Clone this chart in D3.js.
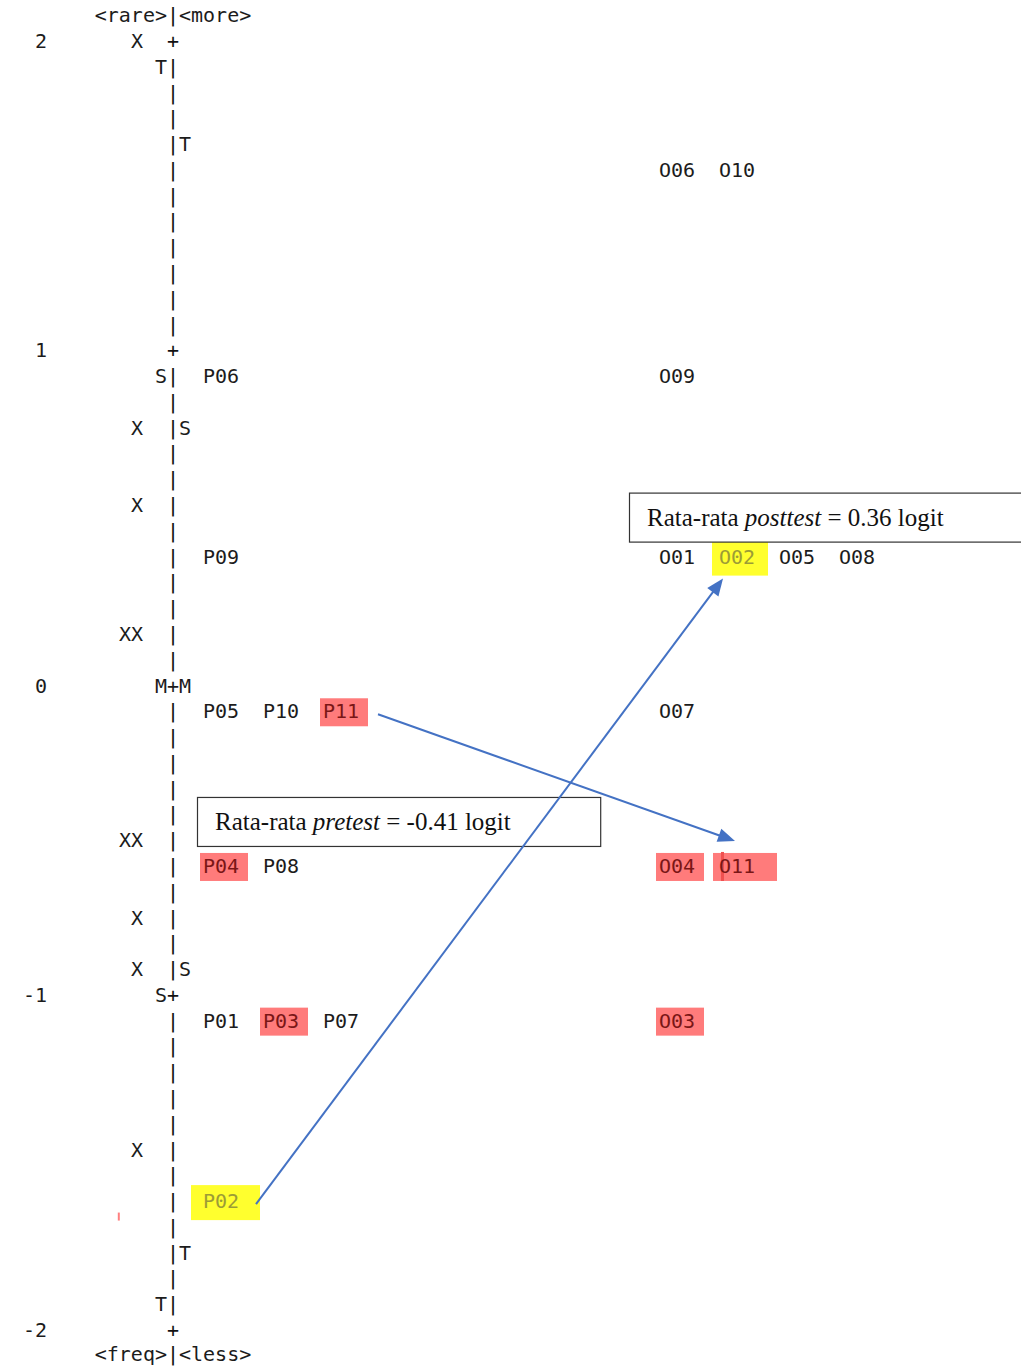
<!DOCTYPE html>
<html><head><meta charset="utf-8">
<script src="https://cdn.jsdelivr.net/npm/d3@7"></script>
<style>body{margin:0;background:#fff;overflow:hidden} text{-webkit-font-smoothing:antialiased}</style>
</head><body>
<svg id="c" width="1021" height="1366"></svg>
<script>
// ---------- DATA (Wright map rows: row 0 = top line, 50 = bottom line) ----------
const measureLabels = ["2", "1", "0", "-1", "-2"];
const measureRows = [0, 12, 25, 37, 50];
const personRows = [0, 15, 18, 23, 31, 34, 36, 43];
const personCounts = [1, 1, 1, 2, 2, 1, 1, 1];
const leftMarkers = ["T", "S", "M", "S", "T"];
const leftMarkerRows = [1, 13, 25, 37, 49];
const rightMarkers = ["T", "S", "M", "S", "T"];
const rightMarkerRows = [4, 15, 25, 36, 47];
const pretestItems = ["P06", "P09", "P05", "P10", "P11", "P04", "P08", "P01", "P03", "P07", "P02"];
const pretestRows = [13, 20, 26, 26, 26, 32, 32, 38, 38, 38, 45];
const posttestItems = ["O06", "O10", "O09", "O01", "O02", "O05", "O08", "O07", "O04", "O11", "O03"];
const posttestRows = [5, 5, 13, 20, 20, 20, 20, 26, 32, 32, 38];
const redHighlights = ["P11", "P04", "P03", "O04", "O11", "O03"];
const yellowHighlights = ["P02", "O02"];
const arrowPairs = [["P11", "O11"], ["P02", "O02"]];
const headerTop = ["<rare>", "<more>"];
const headerBottom = ["<freq>", "<less>"];
const meanNotes = [
  {pre: "Rata-rata ", it: "posttest", post: " = 0.36 logit", row: 20},
  {pre: "Rata-rata ", it: "pretest", post: " = -0.41 logit", row: 32}
];

// ---------- SCALES ----------
const svg = d3.select("#c");
const y = d3.scaleLinear().domain([0, 50]).range([41, 1330]);   // row -> pixel (char centre)
const col = d3.scaleLinear().domain([0, 1]).range([173, 185]);  // column offset from bar -> char centre
const CW = 12, FS = 20, BASE = 7;
const mono = "'DejaVu Sans Mono', 'Liberation Mono', monospace";
const ink = "#1c1c1c";

const g = svg.append("g");
const bg = g.append("g");      // highlights
const fg = g.append("g").attr("opacity", 0.999);      // text
const ag = g.append("g");      // arrows/boxes

function txt(str, c, row, anchor, fill, dy) {
  let x = anchor === "end" ? col(c) + CW / 2 : (anchor === "middle" ? col(c) : col(c) - CW / 2);
  return fg.append("text").attr("x", x).attr("y", y(row) + BASE + (dy || 0))
    .attr("text-anchor", anchor || "start")
    .attr("font-family", mono).attr("font-size", FS)
    .attr("fill", fill || ink).text(str);
}

// vertical bar
const tickSet = new Set(measureRows);
for (let r = -1; r <= 51; r++) {
  if (r === 25) continue;
  txt(tickSet.has(r) ? "+" : "|", 0, r, "middle", "#111", r === 51 ? -2 : 0);
}
// header / footer
txt(headerTop[0], -1, -1, "end"); txt(headerTop[1], 1, -1, "start");
txt(headerBottom[0], -1, 51, "end", ink, -2); txt(headerBottom[1], 1, 51, "start", ink, -2);

// measure labels
measureLabels.forEach((l, i) => txt(l, -11, measureRows[i], "end"));
// persons
personRows.forEach((r, i) => txt("X".repeat(personCounts[i]), -3, r, "end"));
// markers
leftMarkers.forEach((m, i) => txt(m, -1, leftMarkerRows[i], "middle"));
txt("+", 0, 25, "middle");
rightMarkers.forEach((m, i) => txt(m, 1, rightMarkerRows[i], "middle"));

// items
const itemPos = {};
function placeItems(items, rows, startCol) {
  const count = {};
  items.forEach((lab, i) => {
    const r = rows[i];
    const k = count[r] || 0; count[r] = k + 1;
    const c = startCol + 5 * k;
    itemPos[lab] = {left: col(c) - CW / 2, right: col(c) - CW / 2 + 3 * CW, cy: y(r), c, r};
  });
}
placeItems(pretestItems, pretestRows, 3);
placeItems(posttestItems, posttestRows, 41);

const redFill = "#ff7b7b", yelFill = "#ffff2e";
redHighlights.forEach(lab => {
  const p = itemPos[lab];
  const isO11 = lab === "O11";
  bg.append("rect").attr("x", p.left - (isO11 ? 6 : 3)).attr("y", p.cy - 13)
    .attr("width", p.right - p.left + (isO11 ? 28 : 12)).attr("height", 28).attr("fill", redFill);
  if (isO11) bg.append("rect").attr("x", p.left + 2).attr("y", p.cy - 14).attr("width", 3).attr("height", 29).attr("fill", "#f05050");
});
yellowHighlights.forEach(lab => {
  const p = itemPos[lab];
  bg.append("rect").attr("x", p.left - (lab === "P02" ? 12 : 7)).attr("y", p.cy - 16)
    .attr("width", p.right - p.left + (lab === "P02" ? 33 : 20)).attr("height", 35).attr("fill", yelFill);
});

[...pretestItems, ...posttestItems].forEach(lab => {
  const p = itemPos[lab];
  let fill = ink;
  if (redHighlights.includes(lab)) fill = "#7a1616";
  if (yellowHighlights.includes(lab)) fill = "#9c9c36";
  txt(lab, p.c, p.r, "start", fill);
});

// small stray red mark
bg.append("rect").attr("x", col(-4.6)).attr("y", y(45.6) - 4).attr("width", 2).attr("height", 8).attr("fill", "#ff8080");

// mean annotation boxes
const serif = "'Liberation Serif', 'Times New Roman', serif";
const boxes = [
  {x0: col(38.5) - 6, x1: 1040, dy: -64},
  {x0: col(2.5) - 6, x1: col(35.6), dy: -69}
];
meanNotes.forEach((n, i) => {
  const b = boxes[i];
  const top = y(n.row) + b.dy;
  ag.append("rect").attr("x", b.x0 + 0.5).attr("y", top + 0.5).attr("width", b.x1 - b.x0).attr("height", 49)
    .attr("fill", "#fff").attr("stroke", "#333").attr("stroke-width", 1.2);
  const t = ag.append("text").attr("x", b.x0 + 18).attr("y", top + 33)
    .attr("font-family", serif).attr("font-size", 25).attr("fill", "#111");
  t.append("tspan").text(n.pre);
  t.append("tspan").attr("font-style", "italic").text(n.it);
  t.append("tspan").text(n.post);
});

// arrows
const blue = "#4472c4";
const anchors = [
  {sx: 19, sy: 3, tx: 16, ty: -25},
  {sx: 17, sy: 3, tx: 4, ty: 22}
];
arrowPairs.forEach(([a, b], i) => {
  const pa = itemPos[a], pb = itemPos[b], o = anchors[i];
  const x1 = pa.right + o.sx, y1 = pa.cy + o.sy;
  const x2 = pb.left + o.tx, y2 = pb.cy + o.ty;
  const dx = x2 - x1, dy = y2 - y1, L = Math.hypot(dx, dy);
  const ux = dx / L, uy = dy / L, hl = 17, hw = 7;
  ag.append("line").attr("x1", x1).attr("y1", y1).attr("x2", x2 - ux * (hl - 2)).attr("y2", y2 - uy * (hl - 2))
    .attr("stroke", blue).attr("stroke-width", 2);
  const bx = x2 - ux * hl, by = y2 - uy * hl;
  ag.append("path").attr("d", `M${x2},${y2}L${bx - uy * hw},${by + ux * hw}L${bx + uy * hw},${by - ux * hw}Z`)
    .attr("fill", blue);
});
</script>
</body></html>
